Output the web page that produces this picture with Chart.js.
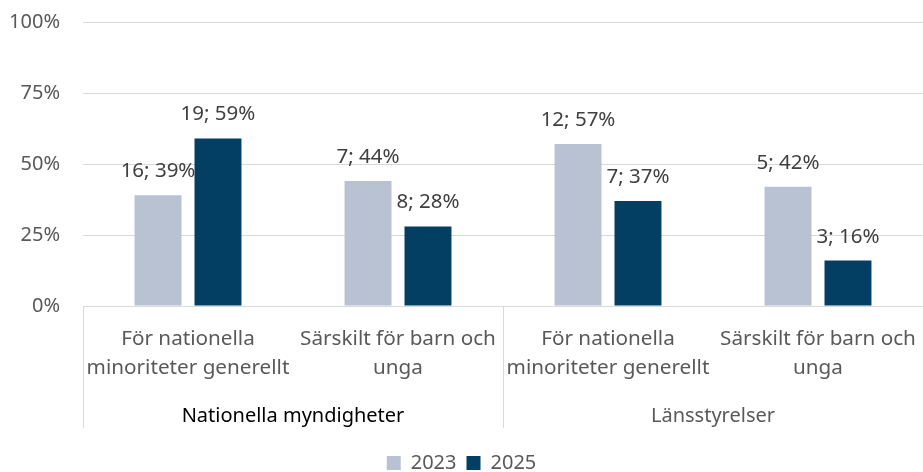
<!DOCTYPE html>
<html>
<head>
<meta charset="utf-8">
<script src="https://cdn.jsdelivr.net/npm/chart.js@4"></script>
<style>
  html, body { margin: 0; padding: 0; background: #fff; overflow: hidden; }
  #wrap { width: 923px; height: 472px; }
</style>
</head>
<body>
<div id="wrap"><canvas id="c"></canvas></div>
<script>
/* Andel myndigheter 2023 vs 2025 (grupperad stapel, två nivåer på x-axeln). */
const kategorier = [
  ['För nationella', 'minoriteter generellt'],
  ['Särskilt för barn och', 'unga'],
  ['För nationella', 'minoriteter generellt'],
  ['Särskilt för barn och', 'unga'],
];
const grupper = ['Nationella myndigheter', 'Länsstyrelser'];
const gruppStorlek = [2, 2];
const antal2023 = [16, 7, 12, 5];
const andel2023 = [39, 44, 57, 42];
const antal2025 = [19, 8, 7, 3];
const andel2025 = [59, 28, 37, 16];
const yTicks = [0, 25, 50, 75, 100];

const FONT = '"Noto Sans", "Open Sans", sans-serif';
const GRIS = '#d9d9d9';

// Etiketter "antal; andel%" ovanför varje stapel
const etiketter = {
  id: 'etiketter',
  afterDatasetsDraw(chart) {
    const ctx = chart.ctx;
    ctx.save();
    ctx.font = '20.5px ' + FONT;
    ctx.fillStyle = '#404040';
    ctx.textAlign = 'center';
    ctx.textBaseline = 'alphabetic';
    chart.data.datasets.forEach((ds, di) => {
      chart.getDatasetMeta(di).data.forEach((bar, i) => {
        ctx.fillText(ds.antal[i] + '; ' + ds.data[i] + '%', bar.x, bar.y - 18);
      });
    });
    ctx.restore();
  }
};

// Gruppnivå på x-axeln: avdelare + gruppnamn
const gruppAxel = {
  id: 'gruppAxel',
  afterDraw(chart) {
    const x = chart.scales.x, ctx = chart.ctx;
    const top = chart.chartArea.bottom, bot = top + 122;
    const kant = [chart.chartArea.left];
    let idx = 0;
    gruppStorlek.forEach(n => {
      idx += n;
      kant.push(idx < kategorier.length ? (x.getPixelForTick(idx - 1) + x.getPixelForTick(idx)) / 2 : chart.chartArea.right);
    });
    ctx.save();
    ctx.strokeStyle = GRIS;
    ctx.lineWidth = 1;
    kant.forEach(px => {
      ctx.beginPath();
      ctx.moveTo(Math.round(px) + 0.5, top);
      ctx.lineTo(Math.round(px) + 0.5, bot);
      ctx.stroke();
    });
    ctx.font = '20px ' + FONT;
    ctx.textAlign = 'center';
    ctx.textBaseline = 'middle';
    grupper.forEach((g, i) => {
      ctx.fillStyle = i === 0 ? '#000000' : '#595959';
      ctx.fillText(g, (kant[i] + kant[i + 1]) / 2, top + 110);
    });
    ctx.restore();
  }
};

const nollPadding = s => { s.paddingTop = 0; s.paddingBottom = 0; s.paddingLeft = 0; s.paddingRight = 0; };

new Chart(document.getElementById('c'), {
  type: 'bar',
  data: {
    labels: kategorier,
    datasets: [
      { label: '2023', data: andel2023, antal: antal2023, backgroundColor: '#b8c2d3', categoryPercentage: 0.571, barPercentage: 0.783 },
      { label: '2025', data: andel2025, antal: antal2025, backgroundColor: '#023f62', categoryPercentage: 0.571, barPercentage: 0.783 },
    ],
  },
  options: {
    responsive: true, maintainAspectRatio: false, animation: false,
    layout: { padding: { top: 22, right: 0, left: 0, bottom: -11 } },
    scales: {
      y: {
        min: 0, max: 100,
        afterBuildTicks: s => { s.ticks = yTicks.map(v => ({ value: v })); },
        afterFit: s => { s.width = 83; nollPadding(s); },
        ticks: { padding: 23, color: '#595959', font: { family: FONT, size: 20 }, callback: v => v + '%' },
        grid: { color: GRIS, drawTicks: false },
        border: { display: false },
      },
      x: {
        afterFit: s => { s.height = 137; nollPadding(s); },
        ticks: { padding: 19, color: '#595959', font: { family: FONT, size: 20.7, lineHeight: 1.4 }, maxRotation: 0, autoSkip: false },
        grid: { display: false, drawTicks: false },
        border: { display: true, color: GRIS },
      },
    },
    plugins: {
      tooltip: { enabled: false },
      legend: {
        position: 'bottom',
        labels: { color: '#595959', font: { family: FONT, size: 20 }, boxWidth: 14, boxHeight: 14, padding: 10 },
      },
    },
  },
  plugins: [etiketter, gruppAxel],
});
</script>
</body>
</html>
